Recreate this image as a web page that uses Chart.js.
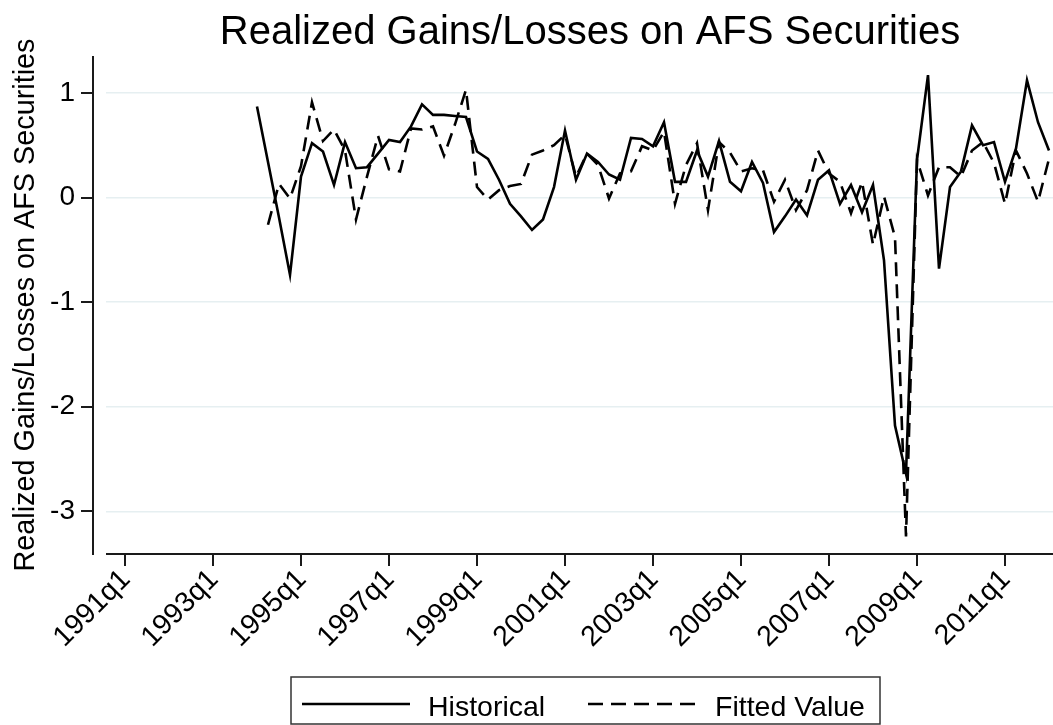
<!DOCTYPE html>
<html><head><meta charset="utf-8">
<script src="https://cdn.jsdelivr.net/npm/chart.js@4"></script>
<style>
html,body{margin:0;padding:0;background:#fff;overflow:hidden;}
#wrap{width:1080px;height:725px;}
</style></head><body>
<div id="wrap"><canvas id="c" width="1080" height="725"></canvas></div>
<script>
// ---------- data ----------
const chartTitle = 'Realized Gains/Losses on AFS Securities';
const yAxisTitle = 'Realized Gains/Losses on AFS Securities';
const seriesNames = ['Historical', 'Fitted Value'];
const xTickLabels = ['1991q1','1993q1','1995q1','1997q1','1999q1','2001q1','2003q1','2005q1','2007q1','2009q1','2011q1'];
const yTicks = [-3, -2, -1, 0, 1];
const historicalStart = '1994q1';
const historical = [
  0.87, 0.34, -0.19, -0.74, 0.20, 0.52, 0.44, 0.12,
  0.53, 0.28, 0.29, 0.42, 0.55, 0.53, 0.68, 0.89,
  0.79, 0.79, 0.78, 0.77, 0.44, 0.37, 0.17, -0.06,
  -0.18, -0.31, -0.21, 0.10, 0.64, 0.17, 0.42, 0.34,
  0.22, 0.17, 0.57, 0.56, 0.49, 0.72, 0.15, 0.15,
  0.45, 0.20, 0.54, 0.15, 0.06, 0.34, 0.14, -0.33,
  -0.18, -0.02, -0.17, 0.17, 0.26, -0.06, 0.12, -0.14,
  0.12, -0.60, -2.18, -2.64, 0.36, 1.17, -0.68, 0.10,
  0.25, 0.69, 0.50, 0.53, 0.15, 0.47, 1.12, 0.72,
  0.45
];
const fittedStart = '1994q2';
const fitted = [
  -0.26, 0.13, -0.01, 0.30, 0.91, 0.54, 0.65,
  0.45, -0.21, 0.20, 0.59, 0.27, 0.25, 0.66, 0.65,
  0.68, 0.40, 0.70, 1.03, 0.10, -0.02, 0.07, 0.11,
  0.13, 0.41, 0.45, 0.50, 0.60, 0.20, 0.42, 0.31,
  -0.01, 0.23, 0.25, 0.49, 0.45, 0.63, -0.06, 0.31,
  0.52, -0.12, 0.53, 0.43, 0.25, 0.28, 0.26, -0.04,
  0.17, -0.12, 0.07, 0.45, 0.23, 0.15, -0.15, 0.15,
  -0.45, 0.01, -0.38, -3.24, 0.36, 0.02, 0.29, 0.29,
  0.20, 0.45, 0.53, 0.33, -0.06, 0.45, 0.23, -0.04,
  0.37
];

// ---------- helpers ----------
const FONT = "'Liberation Sans', Arial, Helvetica, sans-serif";
function qIndex(label) {
  const y = parseInt(label.slice(0, 4), 10);
  const q = parseInt(label.slice(5), 10);
  return (y - 1991) * 4 + (q - 1);
}
function toPoints(startLabel, values) {
  const s = qIndex(startLabel);
  return values.map((v, k) => ({ x: s + k, y: v }));
}
const tickIdx = xTickLabels.map(qIndex);

const decor = {
  id: 'decor',
  afterDraw(chart) {
    const ctx = chart.ctx;
    const a = chart.chartArea;
    const xs = chart.scales.x, ys = chart.scales.y;
    ctx.save();
    ctx.strokeStyle = '#1a1a1a';
    ctx.lineWidth = 2;
    // y axis line (offset left of plot region)
    const yAxX = a.left - 13;
    ctx.beginPath(); ctx.moveTo(yAxX, a.top); ctx.lineTo(yAxX, a.bottom + 1); ctx.stroke();
    yTicks.forEach(v => {
      const py = Math.round(ys.getPixelForValue(v));
      ctx.beginPath(); ctx.moveTo(yAxX - 12, py); ctx.lineTo(yAxX, py); ctx.stroke();
    });
    // x axis line, ticks and rotated labels
    ctx.beginPath(); ctx.moveTo(a.left, a.bottom); ctx.lineTo(a.right, a.bottom); ctx.stroke();
    ctx.fillStyle = '#000';
    ctx.font = '28.5px ' + FONT;
    ctx.textAlign = 'right'; ctx.textBaseline = 'middle';
    tickIdx.forEach((i, k) => {
      const px = Math.round(xs.getPixelForValue(i));
      ctx.beginPath(); ctx.moveTo(px, a.bottom); ctx.lineTo(px, a.bottom + 12); ctx.stroke();
      ctx.save();
      ctx.translate(px + 1, a.bottom + 21);
      ctx.rotate(-Math.PI / 4);
      ctx.fillText(xTickLabels[k], 0, 0);
      ctx.restore();
    });
    // title
    ctx.font = '40px ' + FONT;
    ctx.textAlign = 'center'; ctx.textBaseline = 'alphabetic';
    ctx.fillText(chartTitle, (a.left + a.right) / 2 + 3, 43.5);
    // y axis title
    ctx.save();
    ctx.translate(34, (a.top + a.bottom) / 2);
    ctx.rotate(-Math.PI / 2);
    ctx.font = '28.8px ' + FONT;
    ctx.textAlign = 'center';
    ctx.fillText(yAxisTitle, 0, 0);
    ctx.restore();
    // legend
    ctx.lineWidth = 1.5; ctx.strokeStyle = '#333';
    ctx.strokeRect(291, 677, 589, 47);
    ctx.lineWidth = 2.6; ctx.strokeStyle = '#000';
    ctx.beginPath(); ctx.moveTo(302, 704); ctx.lineTo(410, 704); ctx.stroke();
    ctx.setLineDash([15, 8]);
    ctx.beginPath(); ctx.moveTo(588, 704); ctx.lineTo(696, 704); ctx.stroke();
    ctx.setLineDash([]);
    ctx.font = '28.5px ' + FONT; ctx.textAlign = 'left';
    ctx.fillText(seriesNames[0], 428, 716);
    ctx.fillText(seriesNames[1], 715, 716);
    ctx.restore();
  }
};

new Chart(document.getElementById('c'), {
  type: 'line',
  data: {
    datasets: [
      { label: seriesNames[0], data: toPoints(historicalStart, historical),
        borderColor: '#000', borderWidth: 2.6, pointRadius: 0, tension: 0, fill: false },
      { label: seriesNames[1], data: toPoints(fittedStart, fitted),
        borderColor: '#000', borderWidth: 2.6, borderDash: [14, 8], pointRadius: 0, tension: 0, fill: false }
    ]
  },
  options: {
    responsive: false, animation: false, devicePixelRatio: 1,
    layout: { padding: { left: 0, top: 56, right: 12, bottom: 0 } },
    plugins: { legend: { display: false }, title: { display: false }, tooltip: { enabled: false } },
    scales: {
      x: {
        type: 'linear', min: -19 / 11, max: -19 / 11 + 962 / 11,
        afterBuildTicks(s) { s.ticks = tickIdx.map(v => ({ value: v })); },
        afterFit(s) { s.height = 171; },
        grid: { display: false }, border: { display: false },
        ticks: { display: false }
      },
      y: {
        min: -3.408, max: 1.353,
        afterBuildTicks(s) { s.ticks = yTicks.map(v => ({ value: v })); },
        afterFit(s) { s.width = 106; },
        grid: { color: '#e6eff1', lineWidth: 1.6, drawTicks: false },
        border: { display: false },
        ticks: { padding: 31, color: '#000', font: { family: FONT, size: 28 } }
      }
    }
  },
  plugins: [decor]
});
</script>
</body></html>
